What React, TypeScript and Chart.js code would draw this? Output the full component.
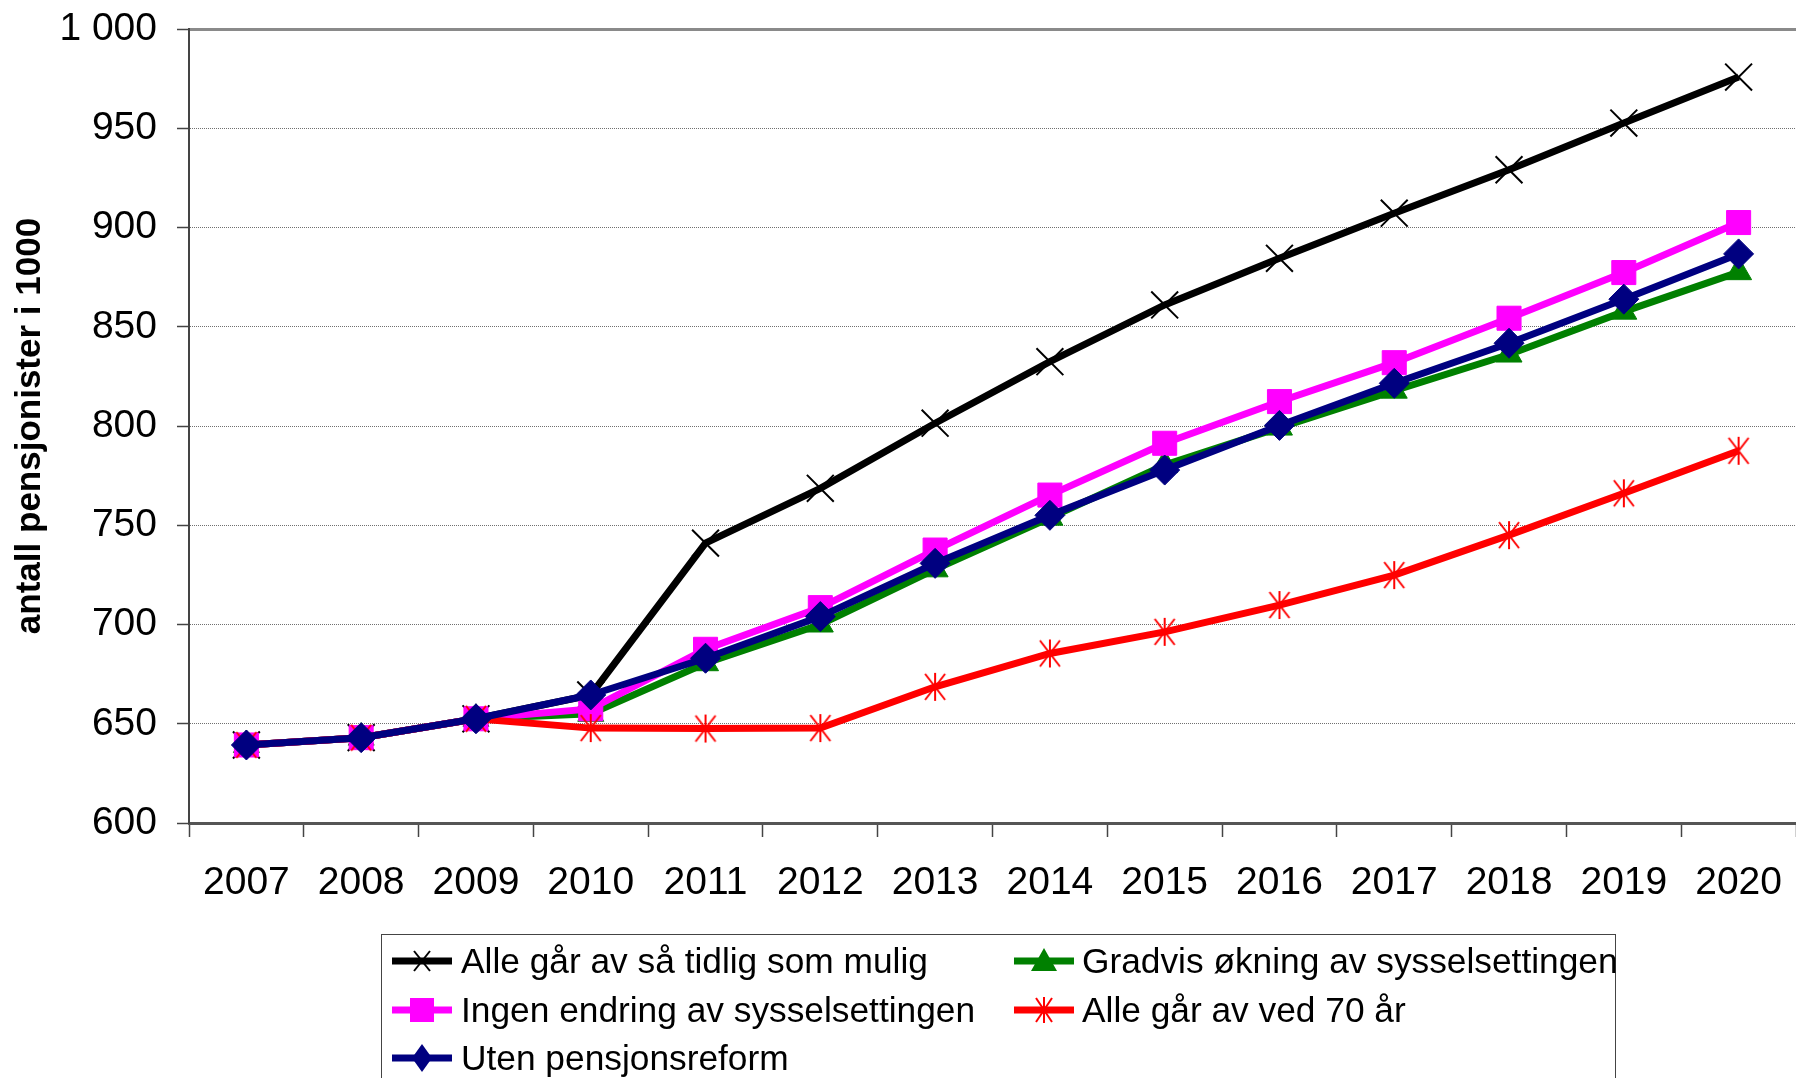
import React, { useEffect, useRef } from "react";
import { Chart, registerables } from "chart.js";

Chart.register(...registerables);

// ---------- data ----------
const years = ["2007", "2008", "2009", "2010", "2011", "2012", "2013", "2014", "2015", "2016", "2017", "2018", "2019", "2020"];

const alleTidlig = [639.3, 643.0, 652.5, 664.5, 741.0, 768.6, 801.4, 832.4, 861.0, 884.5, 907.2, 929.1, 952.6, 975.8];
const gradvisOkning = [639.3, 643.0, 652.5, 655.0, 680.5, 700.0, 727.8, 753.8, 780.3, 799.2, 817.8, 836.0, 857.6, 877.5];
const ingenEndring = [639.3, 643.0, 652.5, 657.5, 687.5, 708.5, 737.5, 765.2, 791.3, 812.3, 831.9, 854.3, 877.3, 902.5];
const alleVed70 = [639.3, 643.0, 652.5, 647.8, 647.6, 647.8, 668.6, 685.4, 696.3, 709.8, 724.9, 745.0, 766.1, 787.5];
const utenReform = [639.3, 643.0, 652.5, 664.5, 683.0, 704.0, 730.8, 755.0, 777.8, 800.3, 821.5, 841.7, 863.9, 886.7];

const seriesNames = [
  "Alle går av så tidlig som mulig",
  "Gradvis økning av sysselsettingen",
  "Ingen endring av sysselsettingen",
  "Alle går av ved 70 år",
  "Uten pensjonsreform",
];
const seriesValues = [alleTidlig, gradvisOkning, ingenEndring, alleVed70, utenReform];
const seriesColors = ["#000000", "#008000", "#FF00FF", "#FF0000", "#000080"];
const seriesMarkers = ["x", "triangle", "square", "asterisk", "diamond"];

const yTickValues = [600, 650, 700, 750, 800, 850, 900, 950, 1000];
const yTickLabels = ["600", "650", "700", "750", "800", "850", "900", "950", "1 000"];
const yAxisTitle = "antall pensjonister i 1000";

const FONT = "'Liberation Sans', Arial, Helvetica, sans-serif";

function makeAsterisk(color: string): HTMLCanvasElement {
  const c = document.createElement("canvas");
  c.width = 30;
  c.height = 30;
  const g = c.getContext("2d")!;
  g.strokeStyle = color;
  g.lineWidth = 2;
  g.beginPath();
  g.moveTo(15, 1);
  g.lineTo(15, 29);
  g.moveTo(5, 2);
  g.lineTo(25, 28);
  g.moveTo(25, 2);
  g.lineTo(5, 28);
  g.stroke();
  return c;
}

function LegendIcon({ color, marker }: { color: string; marker: string }) {
  let m: React.ReactNode = null;
  if (marker === "x") {
    m = (
      <g stroke={color} strokeWidth={2}>
        <line x1={22} y1={5} x2={38} y2={25} />
        <line x1={38} y1={5} x2={22} y2={25} />
      </g>
    );
  } else if (marker === "triangle") {
    m = <polygon points="30,2 43,25 17,25" fill={color} />;
  } else if (marker === "square") {
    m = <rect x={18} y={3} width={24} height={24} fill={color} />;
  } else if (marker === "asterisk") {
    m = (
      <g stroke={color} strokeWidth={2}>
        <line x1={30} y1={2} x2={30} y2={28} />
        <line x1={22} y1={3} x2={38} y2={27} />
        <line x1={38} y1={3} x2={22} y2={27} />
      </g>
    );
  } else if (marker === "diamond") {
    m = <polygon points="30,1 40,15 30,29 20,15" fill={color} />;
  }
  return (
    <svg width={60} height={30} style={{ display: "block" }}>
      <line x1={0} y1={15} x2={60} y2={15} stroke={color} strokeWidth={7} />
      {m}
    </svg>
  );
}

export default function App() {
  const canvasRef = useRef<HTMLCanvasElement | null>(null);

  useEffect(() => {
    const canvas = canvasRef.current;
    if (!canvas) return;
    const asterisk = makeAsterisk(seriesColors[3]);
    const styleFor = (mk: string): any => {
      if (mk === "x") return "crossRot";
      if (mk === "triangle") return "triangle";
      if (mk === "square") return "rect";
      if (mk === "asterisk") return asterisk;
      return "rectRot";
    };
    const radiusFor = (mk: string) => {
      if (mk === "x") return 19;
      if (mk === "triangle") return 15;
      if (mk === "square") return 17;
      if (mk === "asterisk") return 15;
      return 15;
    };
    const orders = [4, 3, 2, 1, 0];

    const chart = new Chart(canvas, {
      type: "line",
      data: {
        labels: years,
        datasets: seriesNames.map((name, i) => ({
          label: name,
          data: seriesValues[i],
          borderColor: seriesColors[i],
          backgroundColor: seriesColors[i],
          pointBackgroundColor: seriesColors[i],
          pointBorderColor: seriesColors[i],
          borderWidth: 7,
          tension: 0,
          pointStyle: styleFor(seriesMarkers[i]),
          pointRadius: radiusFor(seriesMarkers[i]),
          pointBorderWidth: seriesMarkers[i] === "x" || seriesMarkers[i] === "asterisk" ? 2 : 1,
          order: orders[i],
          fill: false,
        })),
      },
      options: {
        animation: false,
        responsive: false,
        maintainAspectRatio: false,
        devicePixelRatio: 1,
        layout: { autoPadding: false, padding: { top: 0, left: 0, right: 0, bottom: 0 } },
        plugins: {
          legend: { display: false },
          tooltip: { enabled: false },
        },
        scales: {
          x: {
            type: "category",
            offset: true,
            grid: {
              display: true,
              drawOnChartArea: false,
              drawTicks: true,
              tickLength: 14,
              tickColor: "#444444",
              tickWidth: 1.5,
              offset: true,
            },
            border: { display: true, color: "#555555", width: 3 },
            ticks: {
              color: "#000000",
              font: { family: FONT, size: 39 },
              padding: 23,
              maxRotation: 0,
              autoSkip: false,
            },
            afterFit: (s: any) => {
              s.height = 1078 - 823;
              s.paddingLeft = 0;
              s.paddingRight = 0;
            },
          },
          x2: {
            type: "category",
            position: "top",
            labels: years,
            offset: true,
            grid: { display: false, drawTicks: false },
            ticks: { display: false },
            border: { display: true, color: "#8a8a8a", width: 3 },
            afterFit: (s: any) => {
              s.height = 0;
              s.paddingLeft = 0;
              s.paddingRight = 0;
            },
          },
          y: {
            type: "linear",
            min: 600,
            max: 1000,
            afterBuildTicks: (s: any) => {
              s.ticks = yTickValues.map((v) => ({ value: v }));
            },
            ticks: {
              color: "#000000",
              font: { family: FONT, size: 39 },
              padding: 20,
              callback: (v: any) => {
                const idx = yTickValues.indexOf(Number(v));
                return idx >= 0 ? yTickLabels[idx] : String(v);
              },
            },
            grid: {
              color: "#707070",
              lineWidth: 1,
              tickLength: 12,
              tickColor: "#444444",
              tickWidth: 1.5,
            },
            border: { display: true, color: "#444444", width: 2, dash: [1, 1] },
            title: {
              display: true,
              text: yAxisTitle,
              color: "#000000",
              font: { family: FONT, size: 35, weight: "bold" },
              padding: { top: 9, bottom: 0 },
            },
            afterFit: (s: any) => {
              s.width = 189;
              s.paddingTop = 29;
              s.paddingBottom = 0;
            },
          },
        },
      },
    });
    return () => chart.destroy();
  }, []);

  const legendLeft = 381;
  const legendTop = 934;
  const colIcon = [392, 1014];
  const colText = [461, 1082];
  const rowCenter = [961, 1010, 1058];

  return (
    <div
      style={{
        position: "absolute",
        left: 0,
        top: 0,
        width: 1796,
        height: 1078,
        overflow: "hidden",
        background: "#ffffff",
        fontFamily: FONT,
      }}
    >
      <canvas
        ref={canvasRef}
        width={1796}
        height={1078}
        style={{ position: "absolute", left: 0, top: 0, width: 1796, height: 1078 }}
      />
      <div
        style={{
          position: "absolute",
          left: legendLeft,
          top: legendTop,
          width: 1616 - legendLeft,
          height: 200,
          border: "1.5px solid #444444",
          boxSizing: "border-box",
        }}
      />
      {seriesNames.map((name, i) => {
        const col = i % 2;
        const row = Math.floor(i / 2);
        const cy = rowCenter[row];
        return (
          <React.Fragment key={name}>
            <div style={{ position: "absolute", left: colIcon[col], top: cy - 15 }}>
              <LegendIcon color={seriesColors[i]} marker={seriesMarkers[i]} />
            </div>
            <div
              style={{
                position: "absolute",
                left: colText[col],
                top: cy - 25,
                height: 50,
                lineHeight: "50px",
                fontSize: 35.3,
                color: "#000000",
                whiteSpace: "nowrap",
              }}
            >
              {name}
            </div>
          </React.Fragment>
        );
      })}
    </div>
  );
}
